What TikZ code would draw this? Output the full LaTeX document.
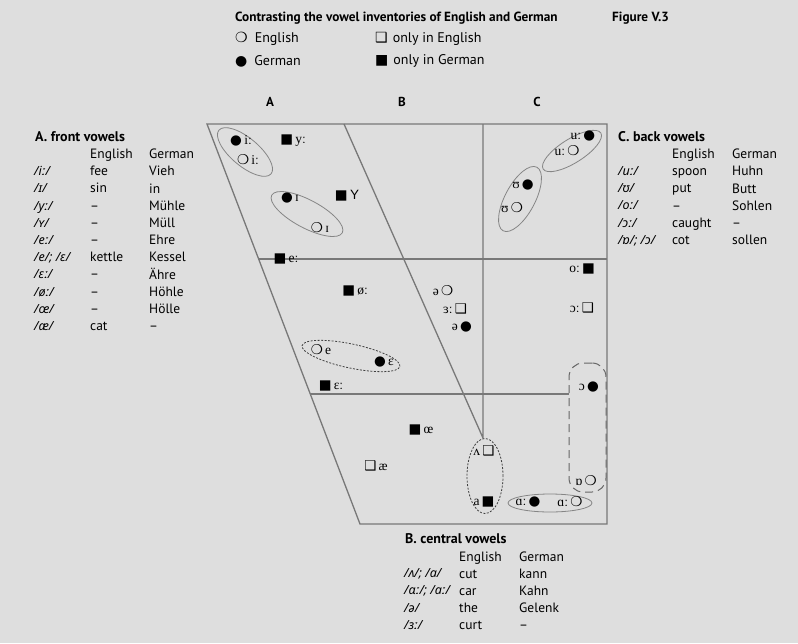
\documentclass[tikz,border=0pt]{standalone}
\usepackage{fontspec}
\setmainfont{PT Sans}
\newfontfamily\chartfont{Liberation Serif}
\newfontfamily\markfont{DejaVu Sans}
\newfontfamily\tabipa{Noto Sans}
\newfontfamily\ysans{Liberation Sans}
\usepackage{xcolor}
\usetikzlibrary{shapes.geometric}
\definecolor{paper}{HTML}{DEDEDE}
\definecolor{chartline}{HTML}{787878}
\definecolor{grpline}{HTML}{858585}
\newcommand{\engc}{{\markfont ❍}}
\newcommand{\gerc}{{\markfont ●}}
\newcommand{\engs}{{\markfont ❑}}
\newcommand{\gers}{{\markfont ■}}

\begin{document}
\begin{tikzpicture}[x=1pt, y=-1pt,
    vw/.style={inner sep=0pt, font=\chartfont\fontsize{13.5}{13.5}\selectfont},
    grp/.style={draw=grpline, line width=0.8pt, ellipse, inner sep=0pt},
    dotgrp/.style={grp, draw=black!75, dash pattern=on 2pt off 1.5pt},
    tabcol/.style={anchor=north west, inner sep=0pt, align=left, font=\fontsize{13.5}{17.2}\selectfont},
    ipacol/.style={tabcol, font=\tabipa\itshape\fontsize{12.5}{17.2}\selectfont},
    tabhead/.style={anchor=west, inner sep=0pt, font=\bfseries\fontsize{14}{16}\selectfont},
    legend/.style={anchor=west, inner sep=0pt, font=\fontsize{14}{16}\selectfont}]
            \useasboundingbox (0, 0) rectangle (798, 643);
            \fill[paper] (0, 0) rectangle (798, 643);

            \node[anchor = west, inner sep = 0pt, font = \bfseries\fontsize{13.3}{15}\selectfont] (title) at (235, 18)
                {Contrasting the vowel inventories of English and German};
            \node[anchor = west, inner sep = 0pt, font = \bfseries\fontsize{13.3}{15}\selectfont] (figno) at (612, 18)
                {Figure V.3};
            \node[legend] (legEng) at (235, 39) {\engc\hspace{7pt}English};
            \node[legend] (legGer) at (235, 61) {\gerc\hspace{7pt}German};
            \node[legend] (legEngOnly) at (375, 39) {\engs\hspace{5pt}only in English};
            \node[legend] (legGerOnly) at (375, 61) {\gers\hspace{5pt}only in German};

            \node[font = \bfseries\fontsize{13}{15}\selectfont] (colA) at (270, 102) {A};
            \node[font = \bfseries\fontsize{13}{15}\selectfont] (colB) at (402, 102) {B};
            \node[font = \bfseries\fontsize{13}{15}\selectfont] (colC) at (537, 102) {C};

            \draw[chartline, line width = 1.3pt] (207, 124) -- (607, 124) -- (607, 524) -- (360, 524) -- cycle;
            \draw[chartline, line width = 1.3pt] (344, 124) -- (483, 438) -- (483, 124);
            \draw[chartline, line width = 1.3pt] (259, 259) -- (607, 259);
            \draw[chartline, line width = 1.3pt] (310, 394) -- (570, 394);

            \node[grp, minimum width = 68, minimum height = 28, rotate = -40] (iGrp) at (245, 152) {};
            \node[grp, minimum width = 80, minimum height = 28, rotate = -28] (ihGrp) at (307, 214) {};
            \node[dotgrp, minimum width = 100, minimum height = 24, rotate = -12] (eGrp) at (351, 356) {};
            \node[grp, minimum width = 68, minimum height = 24, rotate = 32] (uGrp) at (572, 151) {};
            \node[grp, minimum width = 72, minimum height = 30, rotate = 62] (uhGrp) at (520, 199) {};
            \node[dotgrp, fill = paper, minimum width = 36, minimum height = 75] (aGrp) at (485, 476) {};
            \node[grp, minimum width = 84, minimum height = 18] (aaGrp) at (550, 503) {};
            \node[draw = black!60, fill = paper, line width = 1pt, dash pattern = on 8pt off 5pt,
                rounded corners = 14pt, minimum width = 37, minimum height = 129] (oGrp) at (587.5, 427.5) {};

            \node[vw] (iGer) at (241, 141) {\gerc\,iː};
            \node[vw] (iEng) at (248, 160) {\engc\,iː};
            \node[vw] (yGer) at (293, 141) {\gers\,yː};
            \node[vw] (ihGer) at (290, 198) {\gerc\,ɪ};
            \node[vw] (ihEng) at (320, 228) {\engc\,ɪ};
            \node[vw] (yhGer) at (347, 196) {\gers\,{\ysans Y}};
            \node[vw] (eeGer) at (286, 259) {\gers\,eː};
            \node[vw] (oeGer) at (355, 291) {\gers\,øː};
            \node[vw] (schwaEng) at (443, 291) {ə\,\engc};
            \node[vw] (erEng) at (455, 309) {ɜː\,\engs};
            \node[vw] (schwaGer) at (462, 327) {ə\,\gerc};
            \node[vw] (eEng) at (321, 350) {\engc\,e};
            \node[vw] (ehGer) at (384, 362) {\gerc\,ɛ};
            \node[vw] (eehGer) at (331, 386) {\gers\,ɛː};
            \node[vw] (oehGer) at (421, 430) {\gers\,œ};
            \node[vw] (aeEng) at (376, 466) {\engs\,æ};
            \node[vw] (vEng) at (484, 451) {ʌ\,\engs};
            \node[vw] (aGer) at (484, 502) {a\,\gers};
            \node[vw] (ooGer) at (582, 269) {oː\,\gers};
            \node[vw] (ohhEng) at (582, 308) {ɔː\,\engs};
            \node[vw] (ohGer) at (589, 387) {ɔ\,\gerc};
            \node[vw] (obEng) at (586, 481) {ɒ\,\engc};
            \node[vw] (aaGer) at (528, 502) {ɑː\,\gerc};
            \node[vw] (aaEng) at (570, 502) {ɑː\,\engc};
            \node[vw] (uuGer) at (583, 136) {uː\,\gerc};
            \node[vw] (uuEng) at (567, 151) {uː\,\engc};
            \node[vw] (uhGer) at (523, 185) {ʊ\,\gerc};
            \node[vw] (uhEng) at (512, 208) {ʊ\,\engc};

            \node[tabhead] (frontT) at (35, 137) {A. front vowels};
            \node[ipacol] (frontIPA) at (34, 166.3)
                {/iː/\\/ɪ/\\/yː/\\/ʏ/\\/eː/\\/e/; /ɛ/\\/ɛː/\\/øː/\\/œ/\\/æ/};
            \node[tabcol] (frontEN) at (90, 148.8)
                {English\\fee\\sin\\–\\–\\–\\kettle\\–\\–\\–\\cat};
            \node[tabcol] (frontDE) at (149, 148.8)
                {German\\Vieh\\in\\Mühle\\Müll\\Ehre\\Kessel\\Ähre\\Höhle\\Hölle\\–};

            \node[tabhead] (backT) at (618, 137) {C. back vowels};
            \node[ipacol] (backIPA) at (618, 166.3)
                {/uː/\\/ʊ/\\/oː/\\/ɔː/\\/ɒ/; /ɔ/};
            \node[tabcol] (backEN) at (672, 148.8)
                {English\\spoon\\put\\–\\caught\\cot};
            \node[tabcol] (backDE) at (732, 148.8)
                {German\\Huhn\\Butt\\Sohlen\\–\\sollen};

            \node[tabhead] (centT) at (405, 539) {B. central vowels};
            \node[ipacol] (centIPA) at (404, 568.5)
                {/ʌ/; /a/\\/ɑː/; /aː/\\/ə/\\/ɜː/};
            \node[tabcol] (centEN) at (459, 551.3)
                {English\\cut\\car\\the\\curt};
            \node[tabcol] (centDE) at (519, 551.3)
                {German\\kann\\Kahn\\Gelenk\\–};
        \end{tikzpicture}
\end{document}
